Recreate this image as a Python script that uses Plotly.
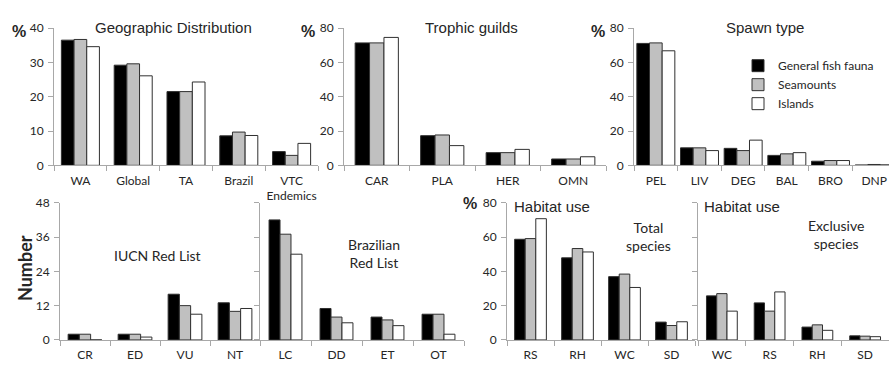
import plotly.graph_objects as go

W, H = 889, 369

series_names = ["General fish fauna", "Seamounts", "Islands"]
series_colors = ["#000000", "#c0c0c0", "#ffffff"]

# Geographic distribution (%)
geo_cats = ["WA", "Global", "TA", "Brazil", "VTC<br>Endemics"]
geo_general = [36.5, 29.2, 21.5, 8.6, 4.0]
geo_seamounts = [36.7, 29.6, 21.5, 9.7, 2.9]
geo_islands = [34.6, 26.1, 24.3, 8.7, 6.4]

# Trophic guilds (%)
troph_cats = ["CAR", "PLA", "HER", "OMN"]
troph_general = [71.4, 17.3, 7.4, 3.7]
troph_seamounts = [71.4, 17.7, 7.4, 3.7]
troph_islands = [74.6, 11.5, 9.3, 5.0]

# Spawn type (%)
spawn_cats = ["PEL", "LIV", "DEG", "BAL", "BRO", "DNP"]
spawn_general = [71.1, 10.2, 9.9, 5.8, 2.4, 0.2]
spawn_seamounts = [71.4, 10.2, 8.6, 6.7, 2.8, 0.5]
spawn_islands = [66.8, 8.6, 14.7, 7.4, 2.8, 0.3]

# IUCN Red List (number)
iucn_cats = ["CR", "ED", "VU", "NT"]
iucn_general = [2, 2, 16, 13]
iucn_seamounts = [2, 2, 12, 10]
iucn_islands = [0, 1, 9, 11]

# Brazilian Red List (number)
brl_cats = ["LC", "DD", "ET", "OT"]
brl_general = [42, 11, 8, 9]
brl_seamounts = [37, 8, 7, 9]
brl_islands = [30, 6, 5, 2]

# Habitat use - total species (%)
hab_cats = ["RS", "RH", "WC", "SD"]
hab_general = [58.7, 47.9, 36.9, 10.4]
hab_seamounts = [59.1, 53.3, 38.4, 8.4]
hab_islands = [70.7, 51.3, 30.6, 10.6]

# Habitat use - exclusive species (%)
exc_cats = ["WC", "RS", "RH", "SD"]
exc_general = [25.7, 21.6, 7.5, 2.4]
exc_seamounts = [27.0, 16.8, 8.8, 2.2]
exc_islands = [16.8, 28.0, 5.6, 1.9]


def xdom(a, b):
    return [a / W, min(b / W, 1.0)]


def ydom(top, bottom):
    return [1 - bottom / H, 1 - top / H]


TOP = ydom(21, 164)
BOT = ydom(203, 346)

panels = [
    dict(cats=geo_cats, vals=[geo_general, geo_seamounts, geo_islands],
         xd=xdom(54, 318), yd=TOP, yr=[0, 40], dt=10, lab=True, bw=0.24, xr=None),
    dict(cats=troph_cats, vals=[troph_general, troph_seamounts, troph_islands],
         xd=xdom(344, 606), yd=TOP, yr=[0, 80], dt=20, lab=True, bw=0.22, xr=None),
    dict(cats=spawn_cats, vals=[spawn_general, spawn_seamounts, spawn_islands],
         xd=xdom(634, 889), yd=TOP, yr=[0, 80], dt=20, lab=True, bw=0.29, xr=[-0.5, 5.34]),
    dict(cats=iucn_cats, vals=[iucn_general, iucn_seamounts, iucn_islands],
         xd=xdom(60, 260), yd=BOT, yr=[0, 48], dt=12, lab=True, bw=0.225, xr=None),
    dict(cats=brl_cats, vals=[brl_general, brl_seamounts, brl_islands],
         xd=xdom(260, 464), yd=BOT, yr=[0, 48], dt=12, lab=False, bw=0.215, xr=None),
    dict(cats=hab_cats, vals=[hab_general, hab_seamounts, hab_islands],
         xd=xdom(507, 695), yd=BOT, yr=[0, 80], dt=20, lab=True, bw=0.225, xr=None),
    dict(cats=exc_cats, vals=[exc_general, exc_seamounts, exc_islands],
         xd=xdom(698, 889), yd=BOT, yr=[0, 80], dt=20, lab=False, bw=0.215, xr=None),
]

AXC = "#a8a8a8"
TXT = "#262626"
LAB_FONT = "Lato"
TITLE_FONT = "Liberation Sans"

fig = go.Figure()
layout = dict(
    width=W, height=H, margin=dict(l=0, r=0, t=0, b=0),
    paper_bgcolor="white", plot_bgcolor="white",
    barmode="overlay", showlegend=True,
    legend=dict(x=738 / W, y=1 - 45 / H, xanchor="left", yanchor="top",
                bgcolor="rgba(0,0,0,0)", font=dict(family=LAB_FONT, size=12, color=TXT),
                tracegroupgap=0, itemwidth=30),
)

for i, p in enumerate(panels, start=1):
    n = len(p["cats"])
    xa = "x" if i == 1 else f"x{i}"
    ya = "y" if i == 1 else f"y{i}"
    bw = p["bw"]
    for j in range(3):
        fig.add_trace(go.Bar(
            x=p["cats"], y=p["vals"][j], name=series_names[j],
            width=bw, offset=-1.5 * bw + j * bw,
            marker=dict(color=series_colors[j], line=dict(color="#303030", width=1)),
            xaxis=xa, yaxis=ya, legendgroup=series_names[j],
            showlegend=(i == 3), hoverinfo="skip",
        ))
    layout["xaxis" if i == 1 else f"xaxis{i}"] = dict(
        domain=p["xd"], anchor=ya, type="category",
        range=p["xr"] if p["xr"] else [-0.5, n - 0.5],
        showline=True, linecolor=AXC, linewidth=1,
        ticks="outside", tickson="boundaries", ticklen=5, tickcolor=AXC,
        showgrid=False, zeroline=False, tickangle=0, ticklabelstandoff=4,
        tickfont=dict(family=LAB_FONT, size=12, color=TXT),
    )
    layout["yaxis" if i == 1 else f"yaxis{i}"] = dict(
        domain=p["yd"], anchor=xa, range=p["yr"], dtick=p["dt"], tick0=0,
        showline=True, linecolor=AXC, linewidth=1,
        ticks="outside", ticklen=5, tickcolor=AXC, ticklabelstandoff=2,
        showticklabels=p["lab"], showgrid=False, zeroline=False,
        tickfont=dict(family=LAB_FONT, size=12, color=TXT),
    )

fig.update_layout(**layout)


def ann(text, x, y, size, family, bold=False, angle=0):
    fig.add_annotation(
        text=f"<b>{text}</b>" if bold else text,
        x=x / W, y=1 - y / H, xref="paper", yref="paper",
        xanchor="center", yanchor="middle", showarrow=False, textangle=angle,
        font=dict(family=family, size=size, color=TXT),
    )


ann("Geographic Distribution", 173, 20, 15, TITLE_FONT)
ann("Trophic guilds", 471, 20, 15, TITLE_FONT)
ann("Spawn type", 765, 20, 15, TITLE_FONT)
ann("Habitat use", 552, 207, 15, TITLE_FONT)
ann("Habitat use", 742, 207, 15, TITLE_FONT)
ann("IUCN Red List", 157, 258, 14, LAB_FONT)
ann("Brazilian<br>Red List", 374, 256, 14, LAB_FONT)
ann("Total<br>species", 648, 238, 14, LAB_FONT)
ann("Exclusive<br>species", 836, 236, 14, LAB_FONT)
ann("%", 19, 24, 16, TITLE_FONT, bold=True)
ann("%", 308, 24, 16, TITLE_FONT, bold=True)
ann("%", 598, 24, 16, TITLE_FONT, bold=True)
ann("%", 470, 204, 16, TITLE_FONT, bold=True)
ann("Number", 25, 271, 18, LAB_FONT, bold=True, angle=-90)

fig.write_html("out.html")
